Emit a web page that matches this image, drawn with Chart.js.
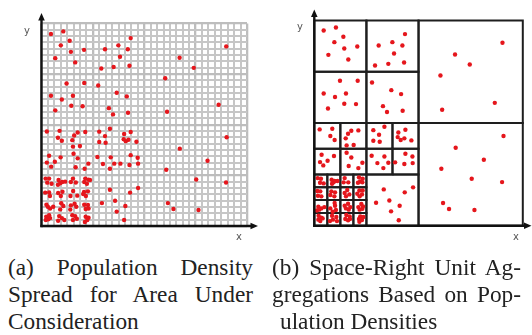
<!DOCTYPE html>
<html><head><meta charset="utf-8">
<script src="https://cdn.jsdelivr.net/npm/chart.js@4.4.1/dist/chart.umd.min.js"></script>
<style>
html,body{margin:0;padding:0;background:#fff;}
#wrap{position:relative;width:532px;height:335px;overflow:hidden;background:#fff;}
canvas{position:absolute;top:0;}
#ca{left:0;} #cb{left:266px;}
.lbl{position:absolute;font-family:"DejaVu Sans",sans-serif;font-size:10px;line-height:10px;color:#555;}
.cap{position:absolute;font-family:"Liberation Serif","Times New Roman",serif;font-size:23.3px;line-height:27px;color:#222;}
.cap div{white-space:nowrap;}
.cap div.j{text-align:justify;text-align-last:justify;white-space:normal;}
</style></head>
<body>
<div id="wrap">
  <canvas id="ca" width="266" height="245" style="width:266px;height:245px"></canvas>
  <canvas id="cb" width="266" height="245" style="width:266px;height:245px"></canvas>
  <span class="lbl" style="left:24px;top:26px">y</span>
  <span class="lbl" style="left:236px;top:231.5px">x</span>
  <span class="lbl" style="left:297px;top:22px">y</span>
  <span class="lbl" style="left:513px;top:231.5px">x</span>
  <div class="cap" style="left:8px;top:254px;width:245px">
    <div class="j">(a) Population Density</div>
    <div class="j">Spread for Area Under</div>
    <div>Consideration</div>
  </div>
  <div class="cap" style="left:272px;top:254px;width:249px">
    <div class="j">(b) Space-Right Unit Ag-</div>
    <div class="j">gregations Based on Pop-</div>
    <div style="padding-left:8px">ulation Densities</div>
  </div>
</div>
<script>
// ---- Panel (a): population points, area units 0..100 ----
const gridDivisions = 32;
const spreadPoints = [
 [4.6,94.8],[10.6,96.1],[13.7,91.5],[9.4,89.2],[14.3,86.0],[6.7,82.9],[16.4,80.8],[20.7,87.0],[30.9,87.3],[37.4,89.2],
 [43.4,92.8],[42.0,87.3],[38.2,83.6],[35.1,78.5],[29.1,77.8],[42.8,79.1],[12.2,70.4],[20.8,70.6],[27.6,69.4],[36.6,65.8],
 [41.5,64.0],[4.6,64.3],[15.3,64.3],[9.9,62.5],[14.5,59.4],[20.0,59.1],[6.7,57.1],[32.8,58.2],[34.8,55.1],[42.1,55.9],
 [60.2,73.0],[67.2,83.1],[74.1,78.1],[89.9,88.7],[86.2,59.9],[61.1,56.4],
 [2.6,46.7],[8.8,47.0],[8.0,43.6],[9.9,42.1],[15.9,44.7],[17.6,46.2],[21.3,46.4],[15.0,42.4],[18.7,39.5],[15.3,39.2],
 [28.1,46.6],[33.3,48.0],[30.9,44.4],[28.1,41.5],[31.2,41.1],[40.2,45.4],[43.4,46.4],[40.0,42.9],[41.0,41.9],[42.3,42.6],
 [46.2,41.6],[90.1,43.8],[67.3,38.2],
 [3.7,34.7],[9.3,33.9],[6.5,31.7],[2.6,31.3],[4.7,29.3],[15.6,35.7],[17.6,33.4],[16.6,29.0],[22.8,30.8],[21.0,28.3],
 [27.2,34.1],[33.7,33.9],[35.4,30.8],[38.4,30.8],[33.3,28.3],[29.9,30.6],[43.4,35.0],[46.8,33.7],[42.8,30.1],[47.0,30.8],
 [60.7,27.8],[80.8,32.2],
 [2.0,23.4],[3.7,23.4],[2.8,21.4],[4.9,20.9],[8.3,22.7],[9.1,21.1],[8.0,20.4],[10.1,21.7],[11.5,21.9],[14.3,21.7],
 [15.3,23.4],[16.7,21.5],[21.3,23.4],[22.8,22.9],[20.8,21.7],[22.1,20.9],[23.6,22.7],
 [1.8,16.5],[3.7,16.6],[4.1,14.8],[8.1,16.3],[10.2,16.9],[9.4,14.8],[15.4,17.3],[14.1,14.8],[17.4,15.0],[20.7,16.8],
 [22.6,17.1],[21.6,14.8],[20.3,15.8],
 [2.4,10.5],[4.2,8.6],[3.1,9.5],[5.7,9.5],[9.6,11.2],[9.1,8.2],[10.6,9.9],[14.3,10.2],[16.1,11.0],[16.9,9.5],
 [14.0,8.1],[20.8,10.5],[22.6,10.4],[21.5,8.4],[22.9,8.6],
 [2.3,4.6],[3.7,5.3],[3.3,3.3],[2.1,3.0],[4.2,3.9],[8.6,4.9],[9.9,3.9],[11.1,3.0],[8.1,2.6],[15.0,5.3],
 [16.4,4.9],[17.2,3.6],[15.3,3.0],[21.5,4.6],[22.9,4.1],[22.3,3.0],[21.1,2.0],
 [33.3,17.9],[43.1,16.5],[47.0,18.8],[29.4,11.3],[35.8,12.5],[40.8,9.9],[36.6,7.1],[40.2,3.0],[61.5,11.3],[64.2,8.4],
 [76.4,7.9],[75.3,23.0],[89.8,21.5]
];

// ---- Panel (b): aggregation cells [x0,y0,x1,y1] and points, units 0..16 ----
const cells = [
 [8,8,16,16],[8,0,16,8],
 [0,12,4,16],[4,12,8,16],[0,8,4,12],[4,8,8,12],
 [0,6,2,8],[2,6,4,8],[4,6,6,8],[6,6,8,8],
 [0,4,2,6],[2,4,4,6],[4,4,6,6],[6,4,8,6],
 [4,0,8,4],
 [0,3,1,4],[1,3,2,4],[2,3,3,4],[3,3,4,4],
 [0,2,1,3],[1,2,2,3],[2,2,3,3],[3,2,4,3],
 [0,1,1,2],[1,1,2,2],[2,1,3,2],[3,1,4,2],
 [0,0,1,1],[1,0,2,1],[2,0,3,1],[3,0,4,1]
];
const aggregPoints = [
 [0.72,15.22],[1.66,15.45],[2.23,14.73],[1.54,14.31],[2.30,13.82],[1.08,13.32],[3.30,13.97],[2.61,12.96],
 [6.96,14.94],[5.99,14.31],[6.76,14.05],[4.94,14.05],[6.12,13.43],[6.89,12.73],[5.68,12.62],[4.66,12.49],
 [1.97,11.30],[3.33,11.30],[0.72,10.31],[2.43,10.31],[1.59,10.03],[1.05,9.14],[2.30,9.51],[3.20,9.48],
 [4.43,11.17],[5.91,10.57],[6.66,10.26],[5.27,9.32],[5.58,8.86],[6.78,8.96],
 [14.44,14.26],[10.80,13.35],[11.93,12.57],[9.68,11.71],[13.85,9.58],[9.81,9.04],
 [14.52,6.99],[10.85,6.08],[13.01,5.14],[9.75,4.44],[12.08,3.66],[14.41,3.40],[9.88,1.77],[10.34,1.30],[12.29,1.22],
 [0.41,7.51],[1.38,7.56],[1.23,6.99],[1.56,6.68],
 [2.59,7.17],[2.84,7.40],[3.38,7.43],[2.41,6.81],[2.48,6.26],[3.02,6.29],
 [4.53,7.45],[5.38,7.71],[4.97,7.09],[4.53,6.62],[5.02,6.55],
 [6.99,7.48],[6.45,7.27],[6.40,6.91],[6.63,6.68],[6.91,6.81],[7.45,6.65],
 [0.56,5.53],[1.51,5.43],[1.02,5.06],[0.44,4.96],[0.69,4.70],
 [2.48,5.69],[2.84,5.32],[3.69,4.91],[2.64,4.65],[3.38,4.49],
 [4.40,5.45],[5.38,5.40],[4.84,4.88],[5.68,4.91],[5.30,4.49],
 [6.99,5.61],[7.53,5.40],[6.20,4.94],[6.91,4.81],[7.55,4.88],
 [5.33,2.83],[6.94,2.60],[7.58,2.99],[4.74,1.79],[5.76,1.97],[6.55,1.56],[5.89,1.12],[6.48,0.42],
 [0.26,3.71],[0.51,3.66],[0.44,3.35],[0.72,3.30],
 [1.33,3.58],[1.77,3.48],[1.48,3.38],[1.36,3.27],[1.56,3.48],
 [2.33,3.71],[2.61,3.38],[2.25,3.38],
 [3.43,3.77],[3.71,3.66],[3.51,3.45],[3.69,3.38],[3.35,3.35],
 [0.23,2.70],[0.46,2.68],[0.28,2.34],[0.54,2.29],
 [1.31,2.68],[1.59,2.60],[1.23,2.39],[1.54,2.29],
 [2.53,2.78],[2.33,2.55],[2.69,2.44],[2.43,2.29],
 [3.46,2.75],[3.71,2.75],[3.30,2.49],[3.66,2.44],[3.48,2.29],
 [0.31,1.48],[0.20,1.19],[0.54,1.35],[0.77,1.45],[0.38,1.25],
 [1.56,1.77],[1.59,1.56],[1.23,1.35],[1.66,1.22],[1.41,1.09],
 [2.33,1.56],[2.59,1.71],[2.43,1.35],[2.64,1.25],[2.76,1.45],
 [3.61,1.69],[3.38,1.45],[3.69,1.32],[3.48,1.25],[3.74,1.51],
 [0.33,0.78],[0.54,0.62],[0.31,0.47],[0.46,0.36],[0.64,0.57],
 [1.36,0.78],[1.69,0.68],[1.43,0.47],[1.74,0.36],[1.20,0.36],
 [2.46,0.83],[2.71,0.73],[2.38,0.52],[2.74,0.52],[2.59,0.42],
 [3.53,0.73],[3.76,0.68],[3.43,0.52],[3.66,0.44],[3.46,0.31]
];

const RED = '#e5161c';
const toXY = p => ({x: p[0], y: p[1]});

const axisArrows = {
  id: 'axisArrows',
  afterDraw(chart, args, o) {
    const {ctx, chartArea: a} = chart;
    ctx.save();
    ctx.strokeStyle = '#111'; ctx.fillStyle = '#111'; ctx.lineWidth = o.width;
    const x0 = a.left, y0 = a.bottom;
    const yTip = a.top - o.extY, xTip = a.right + o.extX;
    ctx.beginPath(); ctx.moveTo(x0, y0 + o.width / 2); ctx.lineTo(x0, yTip + 5); ctx.stroke();
    ctx.beginPath(); ctx.moveTo(x0, yTip); ctx.lineTo(x0 - 3.3, yTip + 7.5); ctx.lineTo(x0 + 3.3, yTip + 7.5); ctx.closePath(); ctx.fill();
    ctx.beginPath(); ctx.moveTo(x0 - o.width / 2, y0); ctx.lineTo(xTip - 5, y0); ctx.stroke();
    ctx.beginPath(); ctx.moveTo(xTip, y0); ctx.lineTo(xTip - 7.5, y0 - 3.3); ctx.lineTo(xTip - 7.5, y0 + 3.3); ctx.closePath(); ctx.fill();
    ctx.restore();
  }
};

const gridOpts = {
  drawTicks: false,
  color: c => (c.index % 8 === 0 ? '#bdbdbd' : '#c6c6c6'),
  lineWidth: c => (c.index % 8 === 0 ? 2.3 : 2)
};

new Chart(document.getElementById('ca'), {
  type: 'scatter',
  data: { datasets: [{
    data: spreadPoints.map(toXY),
    pointRadius: 2.2, pointBackgroundColor: RED, pointBorderWidth: 0, pointHoverRadius: 2.2
  }]},
  options: {
    responsive: false, devicePixelRatio: 1, animation: false,
    layout: { padding: { left: 41.5, right: 19, top: 23.5, bottom: 19 } },
    plugins: { legend: { display: false }, tooltip: { enabled: false },
      axisArrows: { width: 2.4, extX: 11, extY: 10.5 } },
    scales: {
      x: { type: 'linear', min: 0, max: 100, ticks: { display: false, stepSize: 100 / gridDivisions },
           grid: gridOpts, border: { display: false }, afterFit: s => { s.height = 0; } },
      y: { type: 'linear', min: 0, max: 100, ticks: { display: false, stepSize: 100 / gridDivisions },
           grid: gridOpts, border: { display: false }, afterFit: s => { s.width = 0; } }
    }
  },
  plugins: [axisArrows]
});

const cellSets = cells.map(c => ({
  data: [{x:c[0],y:c[1]},{x:c[2],y:c[1]},{x:c[2],y:c[3]},{x:c[0],y:c[3]},{x:c[0],y:c[1]}],
  showLine: true, borderColor: '#1e1e1e', borderWidth: 2, pointRadius: 0, pointHoverRadius: 0,
  fill: false, tension: 0, clip: false
}));

new Chart(document.getElementById('cb'), {
  type: 'scatter',
  data: { datasets: [{
    data: aggregPoints.map(toXY),
    pointRadius: 2.2, pointBackgroundColor: RED, pointBorderWidth: 0, pointHoverRadius: 2.2
  }].concat(cellSets)},
  options: {
    responsive: false, devicePixelRatio: 1, animation: false,
    layout: { padding: { left: 48.3, right: 9.2, top: 20.5, bottom: 19.3 } },
    plugins: { legend: { display: false }, tooltip: { enabled: false },
      axisArrows: { width: 2.4, extX: 8.7, extY: 11 } },
    scales: {
      x: { type: 'linear', min: 0, max: 16, display: false },
      y: { type: 'linear', min: 0, max: 16, display: false }
    }
  },
  plugins: [axisArrows]
});
</script>
</body></html>
